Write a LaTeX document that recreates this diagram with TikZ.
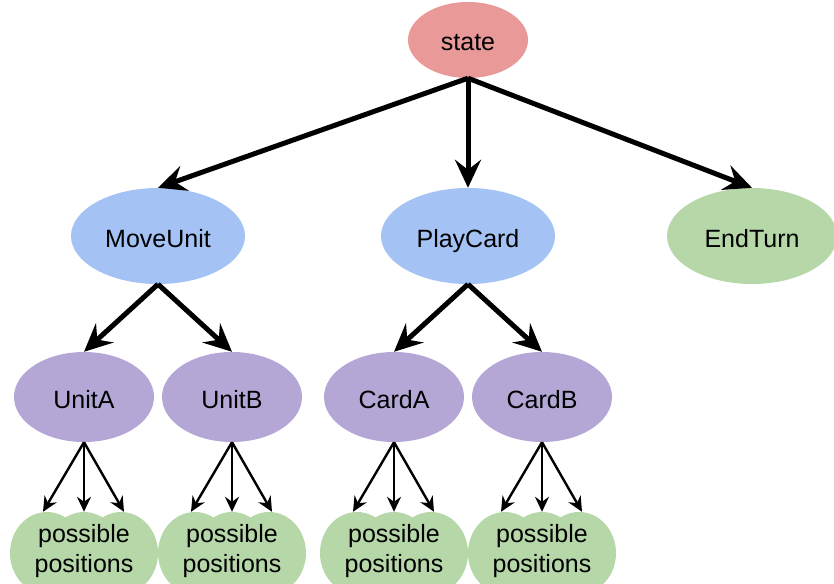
\documentclass[tikz,border=0pt]{standalone}
\usepackage{fontspec}
\setmainfont{Liberation Sans}
\usetikzlibrary{shapes.geometric,arrows.meta}
\definecolor{rootpink}{HTML}{EA9999}
\definecolor{actblue}{HTML}{A4C2F4}
\definecolor{optpurple}{HTML}{B4A7D6}
\definecolor{leafgreen}{HTML}{B6D7A8}
\tikzset{
  blob/.style={ellipse, draw=none, inner sep=0pt, text height=22pt, text depth=0pt,
    font=\fontsize{25}{30}\selectfont},
  rootnode/.style={blob, fill=rootpink, minimum width=120pt, minimum height=76pt},
  actnode/.style={blob, fill=actblue, minimum width=174pt, minimum height=96pt},
  endnode/.style={blob, fill=leafgreen, minimum width=170pt, minimum height=96pt},
  optnode/.style={blob, fill=optpurple, minimum width=140pt, minimum height=90pt},
  leafnode/.style={ellipse, draw=none, inner sep=0pt, fill=leafgreen,
    minimum width=74pt, minimum height=82pt},
  leaftext/.style={align=center, inner sep=0pt, font=\fontsize{25}{29.5}\selectfont},
  bigarrow/.style={line width=5pt, -{Stealth[length=28pt, width=26pt, inset=10pt]}},
  smallarrow/.style={line width=2.4pt, -{Stealth[length=15pt, width=14pt, inset=5pt]}},
}
\begin{document}
\begin{tikzpicture}[x=1pt, y=-1pt]
\useasboundingbox (0,0) rectangle (834,583);
\clip (0,0) rectangle (834,583);

% root and first-level actions
\node[rootnode] (state) at (468,40) {state};
\node[actnode] (move) at (158,236) {MoveUnit};
\node[actnode] (play) at (468,236) {PlayCard};
\node[endnode] (endturn) at (752,236) {EndTurn};

% second level choices
\node[optnode] (unitA) at (84,397) {UnitA};
\node[optnode] (unitB) at (232,397) {UnitB};
\node[optnode] (cardA) at (394,397) {CardA};
\node[optnode] (cardB) at (542,397) {CardB};

% clusters of possible positions under each choice
\foreach \p/\cx in {unitA/84, unitB/232, cardA/394, cardB/542} {
  \node[leafnode] (\p-l) at (\cx-37,553) {};
  \node[leafnode] (\p-r) at (\cx+37,553) {};
  \node[leafnode] (\p-m) at (\cx,553) {};
  \node[leaftext] (\p-t) at (\cx,551) {possible\\positions};
  \draw[smallarrow] (\p.south) -- ([xshift=-4pt]\p-l.north);
  \draw[smallarrow] (\p.south) -- (\p-m.north);
  \draw[smallarrow] (\p.south) -- ([xshift=3pt]\p-r.north);
}

% connectors between the upper levels
\draw[bigarrow] (state.south) -- (move.north);
\draw[bigarrow] (state.south) -- (play.north);
\draw[bigarrow] (state.south) -- (endturn.north);
\draw[bigarrow] (move.south) -- (unitA.north);
\draw[bigarrow] (move.south) -- (unitB.north);
\draw[bigarrow] (play.south) -- (cardA.north);
\draw[bigarrow] (play.south) -- (cardB.north);
\end{tikzpicture}
\end{document}
